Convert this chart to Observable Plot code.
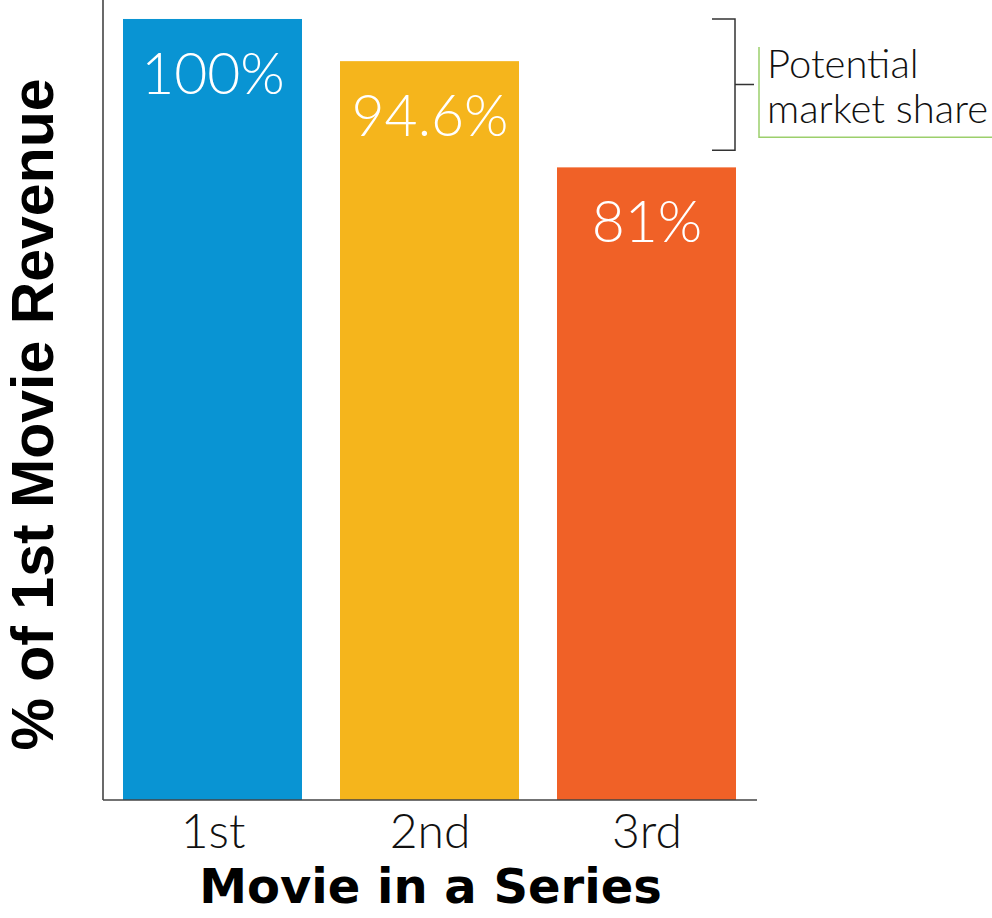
<!DOCTYPE html>
<html><head><meta charset="utf-8">
<script src="https://cdn.jsdelivr.net/npm/d3@7"></script>
<script src="https://cdn.jsdelivr.net/npm/@observablehq/plot@0.6"></script>
<style>body{margin:0;background:#fff}</style>
</head><body><div id="chart"></div>
<script>
const movies = ["1st", "2nd", "3rd"];
const shares = [100, 94.6, 81];
const valueLabels = ["100%", "94.6%", "81%"];
const colors = ["#0994d3", "#f5b51c", "#f06127"];
const bracketRange = [100, 83.2];
const noteLines = ["Potential", "market share"];
const xTitle = "Movie in a Series";
const yTitle = "% of 1st Movie Revenue";

const data = movies.map((m, i) => ({movie: m, share: shares[i], label: valueLabels[i], color: colors[i]}));

const plot = Plot.plot({
  width: 992,
  height: 918,
  marginLeft: 103,
  marginRight: 235,
  marginTop: 0,
  marginBottom: 118,
  style: {background: "#fff", overflow: "visible"},
  x: {domain: movies, paddingInner: 0.175, paddingOuter: 0.094, axis: null},
  y: {domain: [0, 102.43], axis: null},
  color: {type: "identity"},
  marks: [
    Plot.barY(data, {x: "movie", y: "share", fill: d => d.color}),
    Plot.text(data, {x: "movie", y: "share", text: "label", dy: 56, fill: "#fff", fontSize: 57, fontFamily: "Lato", fontWeight: 300}),
    Plot.text(data, {x: "movie", text: "movie", frameAnchor: "bottom", dy: 47, fill: "#111", fontSize: 48, fontFamily: "Lato", fontWeight: 300}),
    Plot.text([xTitle], {text: d => d, frameAnchor: "bottom", dy: 102, fill: "#000", fontSize: 48, fontFamily: "DejaVu Sans", fontWeight: 700}),
    Plot.text([yTitle], {text: d => d, frameAnchor: "left", textAnchor: "middle", rotate: -90, dx: -69, dy: 14, fill: "#000", fontSize: 59, fontFamily: "Liberation Sans", fontWeight: 700})
  ]
});

const svg = d3.select(plot);
const xs = plot.scale("x"), ys = plot.scale("y");
const leftX = 103, rightX = 992 - 235, bottomY = ys.apply(0), topY = 0;
const g = svg.append("g").attr("fill", "none");
g.append("line").attr("x1", leftX).attr("x2", leftX).attr("y1", topY).attr("y2", bottomY).attr("stroke", "#444").attr("stroke-width", 1.6);
g.append("line").attr("x1", leftX).attr("x2", rightX).attr("y1", bottomY).attr("y2", bottomY).attr("stroke", "#444").attr("stroke-width", 1.6);

const bx = xs.apply("3rd") + xs.bandwidth - 1;
const by0 = ys.apply(bracketRange[0]), by1 = ys.apply(bracketRange[1]);
const bm = (by0 + by1) / 2;
g.append("path")
  .attr("d", `M${bx - 23},${by0}H${bx}V${by1}H${bx - 23}M${bx},${bm}H${bx + 19}`)
  .attr("stroke", "#333").attr("stroke-width", 1.5);
const gx = rightX + 2;
g.append("path")
  .attr("d", `M${gx},${by0 + 28}V${by1 - 13}H992`)
  .attr("stroke", "#9ccf6c").attr("stroke-width", 1.5);
const t = svg.append("text").attr("font-family", "Lato").attr("font-weight", 300).attr("font-size", 40).attr("fill", "#111").attr("text-anchor", "start");
noteLines.forEach((line, i) => {
  t.append("tspan").attr("x", gx + 8).attr("y", by0 + 59 + i * 45).text(line);
});

document.getElementById("chart").appendChild(plot);
</script>
</body></html>
